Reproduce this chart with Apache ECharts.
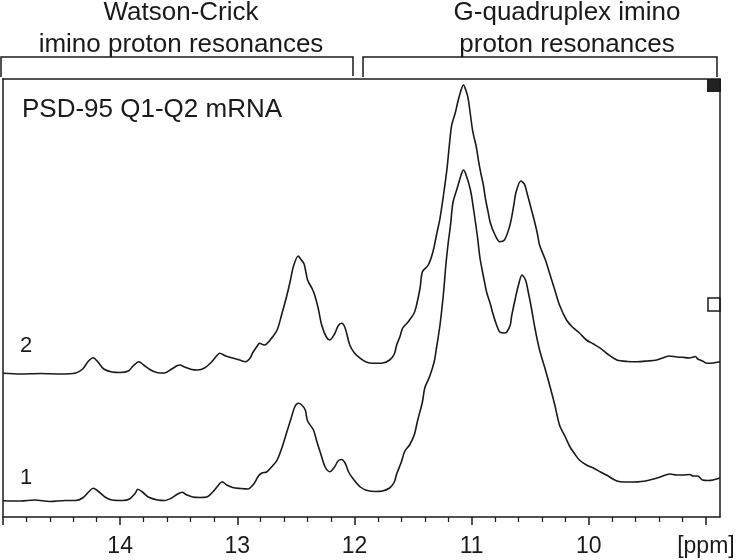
<!DOCTYPE html>
<html>
<head>
<meta charset="utf-8">
<script src="https://cdn.jsdelivr.net/npm/echarts@6/dist/echarts.min.js"></script>
<style>
  html, body { margin: 0; padding: 0; background: #fff; }
  #chart { width: 739px; height: 560px; }
</style>
</head>
<body>
<div id="chart"></div>
<script>
// chemical shift (ppm) and intensity
var ppm1 = [15.00, 14.85, 14.73, 14.60, 14.47, 14.38, 14.32, 14.27, 14.23, 14.18, 14.13, 14.07, 13.98, 13.92, 13.87, 13.85, 13.81, 13.76, 13.68, 13.62,
    13.56, 13.51, 13.47, 13.44, 13.38, 13.32, 13.26, 13.21, 13.16, 13.13, 13.09, 13.04, 12.97, 12.91, 12.86, 12.82, 12.79, 12.75, 12.70, 12.66,
    12.62, 12.58, 12.54, 12.51, 12.48, 12.45, 12.42, 12.40, 12.35, 12.32, 12.29, 12.25, 12.21, 12.17, 12.14, 12.11, 12.08, 12.05, 12.01, 11.95,
    11.89, 11.82, 11.76, 11.70, 11.66, 11.64, 11.60, 11.57, 11.53, 11.49, 11.46, 11.42, 11.40, 11.36, 11.32, 11.30, 11.27, 11.24, 11.22, 11.20,
    11.18, 11.16, 11.12, 11.09, 11.07, 11.05, 11.01, 10.98, 10.95, 10.93, 10.91, 10.89, 10.87, 10.84, 10.82, 10.79, 10.76, 10.72, 10.70, 10.67,
    10.66, 10.63, 10.60, 10.57, 10.54, 10.52, 10.49, 10.46, 10.42, 10.37, 10.33, 10.29, 10.25, 10.20, 10.16, 10.12, 10.08, 10.02, 9.96, 9.90,
    9.85, 9.76, 9.69, 9.62, 9.55, 9.48, 9.39, 9.31, 9.25, 9.20, 9.14, 9.11, 9.07, 9.03, 8.98, 8.94, 8.88];
var int1 = [0.3, 0, 1, -0.5, 0.5, 0.5, 3, 9, 12.7, 9, 4, 1, 0.5, 2, 8, 11.7, 9, 4, 1, 0.5,
    3, 7, 8.7, 6.5, 4, 3.5, 4, 9, 16, 19.3, 16, 13.5, 12.5, 12, 17, 25, 28, 29, 35, 41,
    53, 68, 83, 94, 97.7, 96, 91, 80, 71, 59, 48, 34, 29.3, 34, 40, 41.5, 38, 29, 22, 14,
    10.5, 9.5, 10, 13, 19, 27, 39, 50, 56, 66, 81, 99, 113, 124, 139, 153, 176, 208, 236, 258,
    276, 298, 314, 326, 331, 327, 311, 289, 264, 244, 231, 219, 208, 197, 188, 177, 169, 168, 169, 176,
    184, 201, 216, 226, 221, 211, 193, 173, 151, 131, 114, 96, 76, 64, 54, 47, 41, 36, 33, 29,
    26, 20, 19, 19, 19.5, 21, 24, 27, 26, 26, 26.5, 25, 25, 21, 20.5, 21, 23];

var ppm2 = [15.00, 14.85, 14.68, 14.51, 14.38, 14.32, 14.27, 14.23, 14.19, 14.14, 14.07, 14.00, 13.93, 13.89, 13.84, 13.80, 13.74, 13.68, 13.62, 13.56,
    13.51, 13.49, 13.45, 13.39, 13.34, 13.28, 13.22, 13.17, 13.15, 13.10, 13.04, 12.98, 12.93, 12.89, 12.87, 12.83, 12.81, 12.77, 12.75, 12.70,
    12.66, 12.62, 12.58, 12.55, 12.52, 12.48, 12.46, 12.43, 12.40, 12.36, 12.34, 12.31, 12.28, 12.24, 12.21, 12.17, 12.14, 12.11, 12.08, 12.04,
    12.00, 11.95, 11.90, 11.84, 11.76, 11.70, 11.66, 11.64, 11.61, 11.59, 11.55, 11.53, 11.49, 11.47, 11.44, 11.42, 11.37, 11.33, 11.30, 11.27,
    11.24, 11.21, 11.19, 11.17, 11.14, 11.12, 11.09, 11.07, 11.05, 11.03, 11.01, 10.99, 10.96, 10.94, 10.92, 10.90, 10.88, 10.86, 10.84, 10.80,
    10.76, 10.72, 10.68, 10.66, 10.64, 10.62, 10.58, 10.55, 10.53, 10.50, 10.47, 10.44, 10.42, 10.37, 10.33, 10.29, 10.25, 10.19, 10.14, 10.08,
    10.02, 9.96, 9.90, 9.84, 9.76, 9.67, 9.59, 9.50, 9.42, 9.37, 9.31, 9.25, 9.20, 9.14, 9.09, 9.07, 9.03, 8.99, 8.94, 8.88];
var int2 = [-0.3, -1, -0.5, -1, 0, 4, 12, 15.3, 11, 4, 1, 0.5, 2, 7, 11.3, 8, 3, 0.3, 0, 4,
    7.5, 8, 6, 3.5, 3, 5, 11, 18, 19.7, 17, 15, 13, 11.3, 15, 20, 27, 29.7, 28, 29, 36,
    43, 59, 76.3, 91, 107, 117, 114, 109, 93, 84, 78, 65, 48, 36, 33, 39, 47, 49.7, 45, 28,
    20, 14.7, 11, 9.7, 10, 13, 19, 28, 37, 44.7, 50, 53, 60, 68, 85, 101.3, 108, 121.3, 138, 154.7,
    178, 204.7, 228, 248, 260, 270, 283, 288, 283, 274.7, 258, 241.3, 226, 211.3, 199, 188, 173, 161.3, 150, 138,
    131.3, 133, 145, 154.7, 168, 181.3, 192, 189, 181.3, 168, 154.7, 140, 128, 113, 98, 83, 68, 53, 46, 40,
    33, 29, 24.7, 19, 13, 11.5, 11.3, 12, 13, 15, 17, 16, 15.7, 15, 16.5, 14, 12, 9.7, 10, 11.3];

var offset2 = 128;
var xMin = 8.88, xMax = 15.0;
var tickLabels = [9, 10, 11, 12, 13, 14];
var majorTicks = [9, 10, 11, 12, 13, 14, 15];

function pairs(xs, ys, off) {
    var out = [];
    for (var i = 0; i < xs.length; i++) out.push([xs[i], ys[i] + off]);
    return out;
}

var ink = '#1a1a1a';
var font = 'Liberation Sans, Arial, sans-serif';

var chart = echarts.init(document.getElementById('chart'));

chart.setOption({
    animation: false,
    backgroundColor: '#fff',
    grid: { left: 3, right: 19, top: 79, bottom: 43 },
    xAxis: [{
        type: 'value', min: xMin, max: xMax, inverse: true, position: 'bottom', splitNumber: 6,
        splitLine: { show: false },
        axisLine: { show: true, onZero: false, lineStyle: { color: ink, width: 1.5 } },
        axisTick: { show: true, length: 8, customValues: majorTicks, lineStyle: { color: ink, width: 1.5 } },
        // 0.2 ppm minor ticks between the whole-ppm ticks
        minorTick: { show: true, splitNumber: 5, length: 5, lineStyle: { color: ink, width: 1.2 } },
        axisLabel: {
            customValues: tickLabels, margin: 18, color: ink, fontSize: 23, fontFamily: font,
            formatter: function (v) { return v === 9 ? '[ppm]' : String(v); }
        }
    }, {
        type: 'value', min: xMin, max: xMax, inverse: true, position: 'top',
        splitLine: { show: false },
        axisLine: { show: true, onZero: false, lineStyle: { color: ink, width: 1.5 } },
        axisTick: { show: false },
        axisLabel: { show: false }
    }],
    yAxis: [{
        type: 'value', min: -16, max: 422, position: 'left',
        splitLine: { show: false },
        axisLine: { show: true, onZero: false, lineStyle: { color: '#555', width: 2 } },
        axisTick: { show: false },
        axisLabel: { show: false }
    }, {
        type: 'value', min: -16, max: 422, position: 'right',
        splitLine: { show: false },
        axisLine: { show: true, onZero: false, lineStyle: { color: ink, width: 1.5 } },
        axisTick: { show: false },
        axisLabel: { show: false }
    }],
    series: [{
        name: '1', type: 'line', xAxisIndex: 0, yAxisIndex: 0,
        showSymbol: false, smooth: 0.3,
        lineStyle: { color: ink, width: 1.6 },
        data: pairs(ppm1, int1, 0)
    }, {
        name: '2', type: 'line', xAxisIndex: 0, yAxisIndex: 0,
        showSymbol: false, smooth: 0.3,
        lineStyle: { color: ink, width: 1.6 },
        data: pairs(ppm2, int2, offset2)
    }],
    graphic: [
        // region brackets
        { type: 'polyline', shape: { points: [[1, 77], [1, 57], [353, 57], [353, 76]] }, style: { stroke: ink, lineWidth: 1.5, fill: null } },
        { type: 'polyline', shape: { points: [[363, 77], [363, 57], [717, 57], [717, 77]] }, style: { stroke: ink, lineWidth: 1.5, fill: null } },
        { type: 'text', x: 181, y: 13, style: { text: 'Watson-Crick', fill: ink, font: '26px ' + font, align: 'center', verticalAlign: 'middle' } },
        { type: 'text', x: 181, y: 45, style: { text: 'imino proton resonances', fill: ink, font: '26px ' + font, align: 'center', verticalAlign: 'middle' } },
        { type: 'text', x: 567, y: 13, style: { text: 'G-quadruplex imino', fill: ink, font: '26px ' + font, align: 'center', verticalAlign: 'middle' } },
        { type: 'text', x: 567, y: 45, style: { text: 'proton resonances', fill: ink, font: '26px ' + font, align: 'center', verticalAlign: 'middle' } },
        { type: 'text', x: 22, y: 110, style: { text: 'PSD-95 Q1-Q2 mRNA', fill: ink, font: '26px ' + font, align: 'left', verticalAlign: 'middle' } },
        // trace labels
        { type: 'text', x: 20, y: 346, style: { text: '2', fill: ink, font: '22px ' + font, align: 'left', verticalAlign: 'middle' } },
        { type: 'text', x: 20, y: 478, style: { text: '1', fill: ink, font: '22px ' + font, align: 'left', verticalAlign: 'middle' } },
        // corner markers
        { type: 'rect', shape: { x: 707, y: 79, width: 14, height: 13 }, style: { fill: '#222' } },
        { type: 'rect', shape: { x: 708, y: 298, width: 12, height: 13 }, style: { fill: '#fff', stroke: ink, lineWidth: 1.5 } }
    ]
});
</script>
</body>
</html>
